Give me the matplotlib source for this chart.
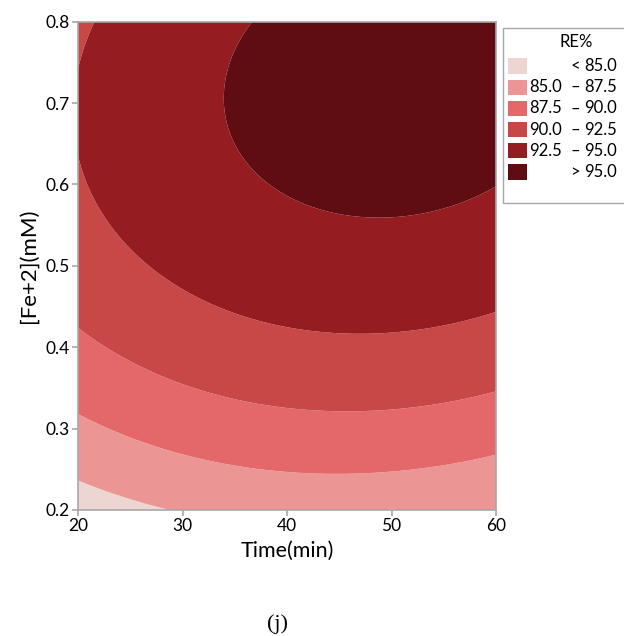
import numpy as np
import matplotlib
matplotlib.use("Agg")
import matplotlib.pyplot as plt
from matplotlib.patches import Rectangle

# quadratic response surface for RE% in coded units
# coded time = (Time - 40) / 20, coded fe = (Fe - 0.5) / 0.3
# terms: const, t, f, t^2, f^2, t*f
coef = [93.9084, 1.1690, 4.7667, -1.4570, -3.3478, 0.5591]
time_range = [20, 60]
fe_range = [0.2, 0.8]

levels = [85.0, 87.5, 90.0, 92.5, 95.0]
colors = ["#EDD6D1", "#EB9695", "#E4686A", "#C84747", "#951C20", "#5F0C13"]
x_ticks = [20, 30, 40, 50, 60]
y_ticks = [0.2, 0.3, 0.4, 0.5, 0.6, 0.7, 0.8]

plt.rcParams["font.family"] = ["Lato", "DejaVu Sans"]

fig = plt.figure(figsize=(6.24, 6.36), dpi=100)
W, H = 624.0, 636.0
ax = fig.add_axes([78 / W, 1 - 510 / H, (496 - 78) / W, (510 - 21.7) / H])

T = np.linspace(time_range[0], time_range[1], 400)
F = np.linspace(fe_range[0], fe_range[1], 400)
TT, FF = np.meshgrid(T, F)
t = (TT - 40) / 20
f = (FF - 0.5) / 0.3
Z = coef[0] + coef[1] * t + coef[2] * f + coef[3] * t ** 2 + coef[4] * f ** 2 + coef[5] * t * f
ax.contourf(TT, FF, Z, levels=[-1e9] + levels + [1e9], colors=colors, antialiased=True)

ax.set_xlim(time_range)
ax.set_ylim(fe_range)
ax.set_xticks(x_ticks)
ax.set_yticks(y_ticks)
ax.set_yticklabels(["%.1f" % v for v in y_ticks])
for s in ax.spines.values():
    s.set_color("#A8A8A8")
    s.set_linewidth(1.2)
ax.tick_params(colors="#A8A8A8", labelcolor="black", labelsize=12.5, length=4, width=1.2, pad=2)
ax.set_xlabel("Time(min)", fontsize=15.5, labelpad=5)
ax.set_ylabel("[Fe+2](mM)", fontsize=16, labelpad=5)

# legend box drawn by hand, Minitab style
fig.patches.append(Rectangle((503 / W, 1 - 203 / H), 125 / W, 175 / H, transform=fig.transFigure,
                             facecolor="white", edgecolor="#A8A8A8", linewidth=1.0))
fig.text(576 / W, 1 - 42 / H, "RE%", ha="center", va="center", fontsize=12)
labels = [("", "<", "%.1f" % levels[0])]
for lo, hi in zip(levels[:-1], levels[1:]):
    labels.append(("%.1f" % lo, "\u2013", "%.1f" % hi))
labels.append(("", ">", "%.1f" % levels[-1]))
for i, (c, (a, mid, b)) in enumerate(zip(colors, labels)):
    yc = 66 + i * 21.2
    fig.patches.append(Rectangle((508 / W, 1 - (yc + 7.5) / H), 19 / W, 15 / H, transform=fig.transFigure,
                                 facecolor=c, edgecolor="none"))
    fig.text(562 / W, 1 - yc / H, a, ha="right", va="center", fontsize=12)
    fig.text(575 / W, 1 - yc / H, mid, ha="center", va="center", fontsize=12)
    fig.text(617 / W, 1 - yc / H, b, ha="right", va="center", fontsize=12)

fig.text(278 / W, 1 - 624 / H, "(j)", ha="center", va="center", fontsize=16, family="Liberation Serif")

fig.savefig("out.png", dpi=100)
